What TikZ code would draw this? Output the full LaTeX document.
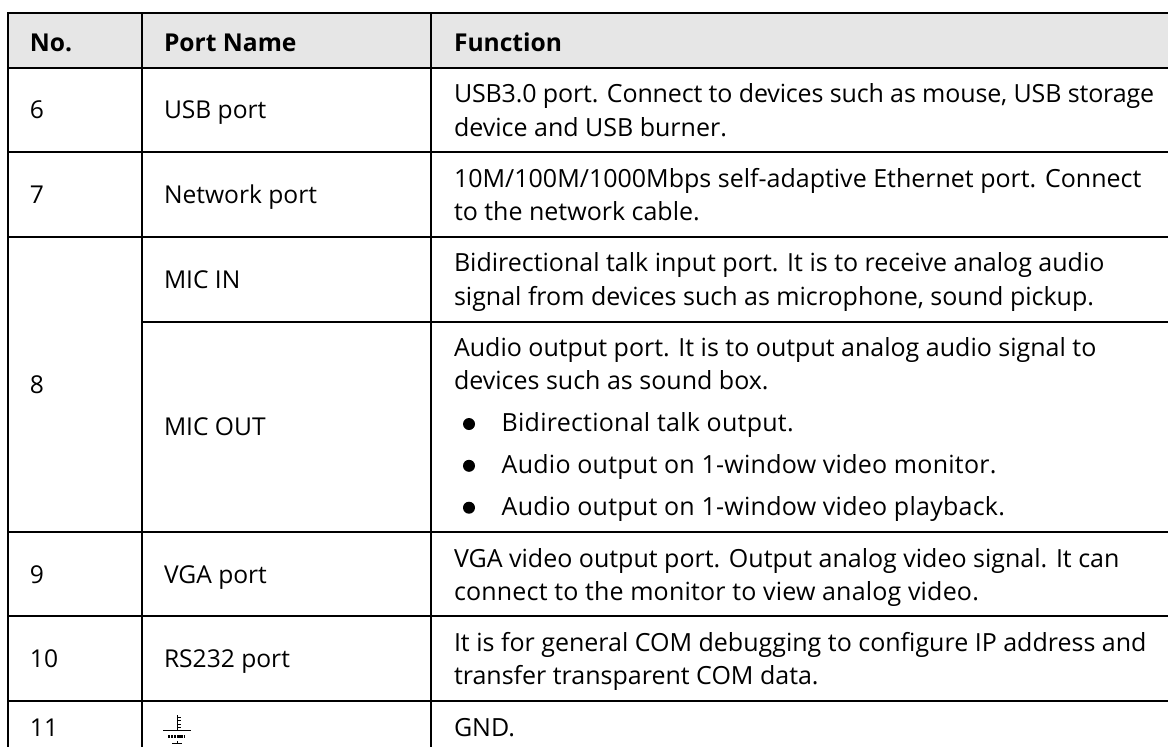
\documentclass[tikz,border=0pt]{standalone}
\usepackage{fontspec}
\setmainfont{Open Sans}
\tikzset{x=1pt,y=-1pt,
 txt/.style={anchor=base west,inner sep=0pt,outer sep=0pt,font=\fontsize{24.6}{30}\selectfont,text=black},
 ftxt/.style={txt,font=\fontsize{25}{30}\selectfont},
 hd/.style={txt,font=\fontsize{24.6}{30}\selectfont\bfseries},
 rule/.style={line width=1.6pt,black},
 gnd/.style={line width=1pt,black},
 dotb/.style={circle,fill=black,inner sep=0pt,minimum size=12pt}}
\definecolor{headgray}{HTML}{E6E6E6}
\begin{document}
\begin{tikzpicture}
\useasboundingbox (0,0) rectangle (1168,747);
\fill[white] (0,0) rectangle (1168,747);
\fill[headgray] (8,13) rectangle (1168,68);
\draw[rule] (7.2,13)--(1168,13);
\draw[rule] (8,68)--(1168,68);
\draw[rule] (8,152)--(1168,152);
\draw[rule] (8,237)--(1168,237);
\draw[rule] (142,322)--(1168,322);
\draw[rule] (8,532)--(1168,532);
\draw[rule] (8,616)--(1168,616);
\draw[rule] (8,701)--(1168,701);
\draw[rule] (8,13)--(8,747);
\draw[rule] (142,13)--(142,747);
\draw[rule] (431,13)--(431,747);
\node[hd] (h1) at (30,51.5) {No.};
\node[hd] (h2) at (164,51.5) {Port Name};
\node[hd] (h3) at (454,51.5) {Function};
\node[txt] (n6) at (30,118.5) {6};
\node[txt] (n7) at (30,203) {7};
\node[txt] (n8) at (30,393) {8};
\node[txt] (n9) at (30,583) {9};
\node[txt] (n10) at (30,667) {10};
\node[txt] (n11) at (30,736.5) {11};
\node[txt] (p6) at (164,118.5) {USB port};
\node[txt] (p7) at (164,203) {Network port};
\node[txt] (p8a) at (164,288.3) {MIC IN};
\node[txt] (p8b) at (164,435.5) {MIC OUT};
\node[txt] (p9) at (164,583) {VGA port};
\node[txt] (p10) at (164,667) {RS232 port};
\draw[gnd] (177.5,715)--(177.5,730);
\draw[gnd,line width=.9pt] (178,717)--(180.5,717) (178,720.5)--(180.5,720.5) (178,724)--(180.5,724) (178,727.5)--(180.5,727.5);
\draw[gnd,line width=1.5pt] (163,730.5)--(191,730.5);
\draw[gnd,line width=3.4pt,dash pattern=on 2.2pt off .9pt] (168,736.5)--(185,736.5);
\draw[gnd,line width=1.7pt] (172,743.5)--(182,743.5) (177.5,743)--(177.5,741);
\node[ftxt] (f1) at (454,102.3) {\addfontfeature{LetterSpace=-0.6}USB3.0 port. Connect to devices such as mouse, USB storage};
\node[ftxt] (f2) at (454,136) {device and USB burner.};
\node[ftxt] (f3) at (454,187.3) {10M/100M/1000Mbps self-adaptive Ethernet port. Connect};
\node[ftxt] (f4) at (454,220.7) {to the network cable.};
\node[ftxt] (f5) at (454,271.7) {Bidirectional talk input port. It is to receive analog audio};
\node[ftxt] (f6) at (454,305) {signal from devices such as microphone, sound pickup.};
\node[ftxt] (f7) at (454,356.7) {Audio output port. It is to output analog audio signal to};
\node[ftxt] (f8) at (454,389.5) {devices such as sound box.};
\node[ftxt] (f9) at (501.7,431) {\addfontfeature{LetterSpace=1}Bidirectional talk output.};
\node[ftxt] (f10) at (501.7,473) {\addfontfeature{LetterSpace=1}Audio output on 1-window video monitor.};
\node[ftxt] (f11) at (501.7,515) {\addfontfeature{LetterSpace=1}Audio output on 1-window video playback.};
\node[dotb] (d1) at (469,424) {};
\node[dotb] (d2) at (469,465.8) {};
\node[dotb] (d3) at (469,507.7) {};
\node[ftxt] (f12) at (454,567) {VGA video output port. Output analog video signal. It can};
\node[ftxt] (f13) at (454,600.3) {\addfontfeature{LetterSpace=0.75}connect to the monitor to view analog video.};
\node[ftxt] (f14) at (454,651) {It is for general COM debugging to configure IP address and};
\node[ftxt] (f15) at (454,684.7) {transfer transparent COM data.};
\node[ftxt] (f16) at (454,736) {GND.};
\end{tikzpicture}
\end{document}
